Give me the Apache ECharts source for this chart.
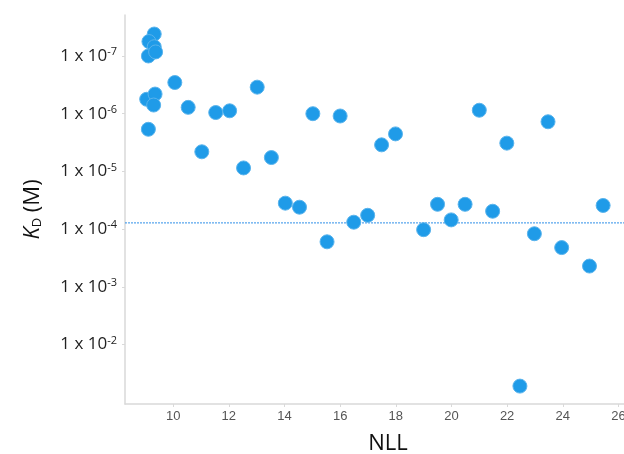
<!DOCTYPE html>
<html>
<head>
<meta charset="utf-8">
<script src="https://cdn.jsdelivr.net/npm/echarts@6/dist/echarts.min.js"></script>
<style>html,body{margin:0;padding:0;background:#fff}#c{width:624px;height:454px}</style>
</head>
<body>
<div id="c"></div>
<script>
var nll = [9.32, 9.13, 9.32, 9.11, 9.37, 10.06, 9.05, 9.35, 9.30, 10.54, 11.53, 12.03, 13.02, 15.02, 9.11, 11.03, 12.53, 13.53, 14.03, 14.54,
           16.0, 17.49, 17.99, 21.0, 21.99, 23.47, 19.5, 20.49, 21.48, 25.45, 16.99, 16.49, 19.99,
           15.53, 19.0, 22.98, 23.96, 24.96, 22.46];
var kdExp = [-7.38, -7.25, -7.16, -7.0, -7.07, -6.54, -6.25, -6.34, -6.15, -6.11, -6.02, -6.05, -6.46, -6.0, -5.73, -5.34, -5.06, -5.24, -4.45, -4.38,
             -5.96, -5.46, -5.65, -6.06, -5.49, -5.86, -4.43, -4.43, -4.31, -4.41, -4.24, -4.12, -4.16,
             -3.78, -3.99, -3.92, -3.68, -3.36, -1.28];
var kd = kdExp.map(function (e) { return Math.pow(10, e); });
var yTickValues = [1e-7, 1e-6, 1e-5, 1e-4, 1e-3, 1e-2];
var xTicks = [10, 12, 14, 16, 18, 20, 22, 24, 26];
var xRange = [8.27, 26.2];
var threshold = 7.8e-5;

var points = nll.map(function (x, i) { return [x, kd[i]]; });
var thresholdLine = xRange.map(function (x) { return [x, threshold]; });

var chart = echarts.init(document.getElementById('c'));
chart.setOption({
  animation: false,
  grid: { left: 125, right: 0, top: 15, bottom: 50, containLabel: false, outerBoundsMode: 'none' },
  xAxis: {
    type: 'value', min: xRange[0], max: xRange[1],
    name: 'NLL', nameLocation: 'middle', nameGap: 29,
    nameTextStyle: { fontSize: 22, color: '#111', fontFamily: 'Open Sans', padding: [0, 0, 0, 27] },
    axisLine: { show: true, lineStyle: { color: '#d9d9d9', width: 1.5 } },
    axisTick: { show: true, length: 3, customValues: xTicks, lineStyle: { color: '#d9d9d9' } },
    axisLabel: { customValues: xTicks, fontSize: 13, color: '#555', fontFamily: 'Liberation Sans', margin: 6 },
    splitLine: { show: false }
  },
  yAxis: {
    type: 'log', inverse: true, min: Math.pow(10, -7.71), max: Math.pow(10, -0.97),
    name: '{k|K}{sub|D} (M)', nameLocation: 'middle', nameGap: 81,
    nameTextStyle: {
      fontSize: 22, color: '#111', fontFamily: 'Open Sans',
      rich: {
        k: { fontSize: 22, color: '#111', fontFamily: 'Open Sans', fontStyle: 'italic' },
        sub: { fontSize: 13, color: '#111', fontFamily: 'Open Sans', verticalAlign: 'bottom', padding: [10, 0, 0, 0] }
      }
    },
    axisLine: { show: true, lineStyle: { color: '#d9d9d9', width: 1.5 } },
    axisTick: { show: true, length: 3, customValues: yTickValues, lineStyle: { color: '#d9d9d9' } },
    axisLabel: {
      customValues: yTickValues, margin: 8,
      formatter: function (v) {
        var e = Math.round(Math.log10(v));
        return '{n|1 x 10}{s|' + e + '}';
      },
      rich: {
        n: { fontSize: 17, color: '#222', fontFamily: 'Open Sans' },
        s: { fontSize: 11, color: '#222', fontFamily: 'Open Sans', verticalAlign: 'top', padding: [0, 0, 8, 0] }
      }
    },
    splitLine: { show: false }
  },
  series: [{
    type: 'line',
    data: thresholdLine,
    z: 1,
    silent: true,
    symbol: 'none',
    color: '#2f8fe8',
    lineStyle: { color: '#2f8fe8', type: [2, 1], width: 1 },
    emphasis: { disabled: true }
  }, {
    type: 'scatter',
    data: points,
    symbolSize: 14,
    z: 3,
    itemStyle: { color: '#1f9be8', borderColor: '#59b3ec', borderWidth: 1, opacity: 1 }
  }]
});
</script>
</body>
</html>
